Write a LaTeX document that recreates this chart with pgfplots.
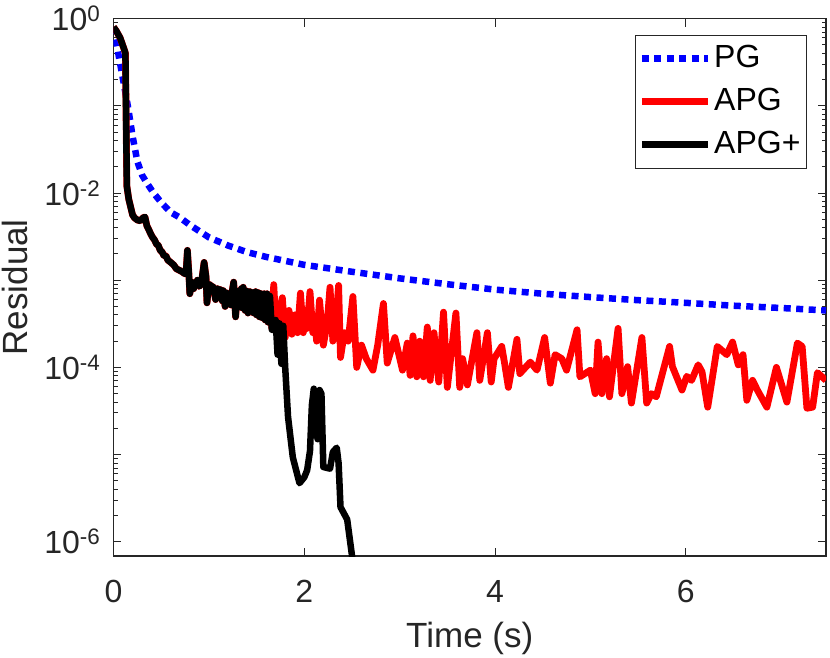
\documentclass[border=0pt]{standalone}
\usepackage{fontspec}
\setmainfont{Liberation Sans}
\usepackage{pgfplots}
\pgfplotsset{compat=1.18}
\definecolor{axgray}{rgb}{0.15,0.15,0.15}
\begin{document}
\begin{tikzpicture}
\begin{axis}[
  at={(0pt,0pt)}, anchor=south west,
  scale only axis, width=712.5pt, height=537.4pt,
  xmin=0, xmax=7.47,
  ymode=log, ymin=6.87e-7, ymax=1,
  xtick={0,2,4,6},
  ytick={1e-6,1e-5,1e-4,1e-3,1e-2,1e-1,1},
  yticklabels={10\textsuperscript{-6},,10\textsuperscript{-4},,10\textsuperscript{-2},,10\textsuperscript{0}},
  /pgf/number format/assume math mode=true,
  tick align=inside,
  major tick length=8pt, minor tick length=4.5pt,
  every tick/.style={axgray, line width=1pt},
  axis line style={axgray, line width=1.2pt},
  tick label style={font=\fontsize{32}{38}\selectfont, text=axgray},
  label style={font=\fontsize{35}{42}\selectfont, text=axgray},
  xlabel={Time (s)}, ylabel={Residual},
  xticklabel style={anchor=base, yshift=-46pt},
  yticklabel style={anchor=east, inner xsep=0pt, xshift=-13pt},
  xlabel style={at={(axis description cs:0.5,0)}, anchor=base, yshift=-91pt},
  ylabel style={at={(axis description cs:0,0.5)}, anchor=base, rotate=0, xshift=0pt, yshift=86pt},
  clip=true,
  legend cell align=left,
  legend style={at={(1,1)}, xshift=-19pt, yshift=-16pt, anchor=north east,
    draw=axgray, line width=1pt, fill=white,
    font=\fontsize{32}{38}\selectfont,
    inner xsep=3pt, inner ysep=2pt,
    nodes={text height=24pt, text depth=7pt, inner xsep=3pt, inner ysep=6pt}},
  legend image code/.code={\draw[#1] (0pt,0pt) -- (66pt,0pt);},
]
% PG
\addplot[color={rgb,1:red,0;green,0;blue,1}, line width=6.5pt, dash pattern=on 7pt off 5.5pt, line cap=butt] coordinates {
(0,0.8) (0.05,0.4) (0.1,0.2) (0.15,0.1) (0.2,0.045) (0.25,0.023) (0.3,0.016) (0.35,0.013) (0.42,0.01) (0.5,0.0078) (0.6,0.0060) (0.7,0.0052) (0.8,0.0043) (1.0,0.0031) (1.2,0.0025) (1.4,0.0021) (1.6,0.00185) (2.0,0.0015) (2.5,0.00125) (3.0,0.00105) (3.5,0.00090) (4.0,0.00078) (4.5,0.00070) (5.0,0.00064) (5.5,0.00059) (6.0,0.00055) (6.5,0.00051) (7.0,0.00048) (7.47,0.00045)
};
\addlegendentry{PG}
% APG
\addplot[color={rgb,1:red,1;green,0;blue,0}, line width=6.8pt, line join=round] coordinates {
(0,0.8) (0.03,0.72) (0.07,0.6) (0.11,0.45) (0.125,0.4) (0.14,0.012) (0.16,0.0085) (0.18,0.0069) (0.2,0.0056) (0.22,0.0052) (0.25,0.0049) (0.28,0.0048) (0.31,0.0052) (0.33,0.0053) (0.35,0.0042) (0.37,0.0038) (0.39,0.0034) (0.41,0.0031) (0.43,0.0029) (0.45,0.0026) (0.47,0.0025) (0.49,0.0022) (0.51,0.0021) (0.53,0.0019) (0.55,0.0019) (0.57,0.0017) (0.6,0.0016) (0.63,0.0015) (0.66,0.00135) (0.69,0.0013) (0.72,0.00125) (0.74,0.0012) (0.76,0.00118) (0.775,0.0022) (0.79,0.0012) (0.8,0.0007) (0.82,0.00095) (0.84,0.0008) (0.86,0.0009) (0.88,0.001) (0.9,0.00085) (0.92,0.0009) (0.95,0.0016) (0.97,0.0011) (0.98,0.00055)
(1.0,0.0009) (1.03,0.00085) (1.05,0.00083) (1.07,0.0006) (1.09,0.0008) (1.1,0.0007) (1.12,0.00078) (1.14,0.00058) (1.15,0.00076) (1.17,0.0005) (1.18,0.00072) (1.2,0.00055) (1.21,0.0007) (1.23,0.00052) (1.24,0.0007) (1.26,0.00095) (1.28,0.00038) (1.3,0.00075) (1.32,0.00055) (1.34,0.0008) (1.35,0.00048) (1.36,0.00083) (1.38,0.00045) (1.4,0.00075) (1.41,0.00042) (1.43,0.00074) (1.44,0.00045) (1.46,0.00072) (1.47,0.00042) (1.49,0.00074) (1.5,0.0004) (1.52,0.00072) (1.53,0.00038) (1.55,0.0007) (1.56,0.00037) (1.58,0.0007) (1.59,0.00035) (1.61,0.0007) (1.62,0.00033) (1.64,0.00066) (1.66,0.00028)
(1.68,0.00089) (1.70,0.00035) (1.72,0.00024) (1.75,0.0005) (1.77,0.00063) (1.8,0.00022) (1.82,0.00035) (1.84,0.00045) (1.87,0.00024) (1.9,0.0004) (1.93,0.00025) (1.96,0.00071) (1.99,0.00025) (2.01,0.00045) (2.03,0.00028) (2.06,0.00074) (2.09,0.00025) (2.11,0.00035) (2.13,0.0002) (2.16,0.00059) (2.2,0.00018) (2.24,0.00032) (2.27,0.00083) (2.3,0.0002) (2.33,0.00032) (2.36,0.00087) (2.38,0.00013) (2.42,0.00025) (2.46,0.0002) (2.51,0.00065) (2.55,0.0001) (2.6,0.00018) (2.65,0.000126) (2.72,0.000093) (2.77,0.00018) (2.83,0.00054) (2.87,0.000112) (2.95,0.00022) (3.03,0.000093) (3.08,0.00019) (3.11,0.000081) (3.14,0.00023) (3.18,0.000078) (3.21,0.0002) (3.25,0.000078) (3.29,0.00029) (3.32,0.000071) (3.36,0.00025) (3.41,0.000068) (3.46,0.00043) (3.5,0.000059) (3.59,0.00042) (3.63,0.000059) (3.66,0.000126) (3.71,0.000063) (3.81,0.00025) (3.84,0.000071) (3.92,0.00025) (3.96,0.000068) (3.99,0.000126) (4.07,0.000174) (4.1,0.000112) (4.14,0.000059) (4.23,0.00021) (4.26,0.000085) (4.37,0.000115) (4.44,0.000093) (4.52,0.00022) (4.58,0.000066) (4.63,0.00014) (4.7,0.000126) (4.75,0.000093) (4.86,0.00027) (4.89,0.000078) (5.0,0.000093) (5.05,0.00005) (5.08,0.000195) (5.12,0.00005) (5.17,0.000126) (5.2,0.000046) (5.29,0.00028) (5.33,0.00005) (5.39,0.000102) (5.43,0.000039) (5.54,0.00022) (5.59,0.000039) (5.64,0.00005) (5.69,0.000046) (5.83,0.000174) (5.86,0.000102) (5.96,0.000055) (6.01,0.000079) (6.06,0.000071) (6.13,0.000107) (6.17,0.000089) (6.23,0.000035) (6.33,0.000174) (6.43,0.00014) (6.49,0.000195) (6.55,0.000107) (6.6,0.00014) (6.64,0.000042) (6.7,0.000071) (6.75,0.000055) (6.85,0.000035) (6.95,0.0001) (7.06,0.00004) (7.17,0.00019) (7.22,0.000174) (7.27,0.000034) (7.33,0.000035) (7.38,0.000087) (7.47,0.000071)
};
\addlegendentry{APG}
% APG+
\addplot[color=black, line width=6.5pt, line join=round] coordinates {
(0,0.8) (0.03,0.72) (0.07,0.6) (0.11,0.45) (0.125,0.4) (0.14,0.012) (0.16,0.0085) (0.18,0.0069) (0.2,0.0056) (0.22,0.0052) (0.25,0.0049) (0.28,0.0048) (0.31,0.0052) (0.33,0.0053) (0.35,0.0042) (0.37,0.0038) (0.39,0.0034) (0.41,0.0031) (0.43,0.0029) (0.45,0.0026) (0.47,0.0025) (0.49,0.0022) (0.51,0.0021) (0.53,0.0019) (0.55,0.0019) (0.57,0.0017) (0.6,0.0016) (0.63,0.0015) (0.66,0.00135) (0.69,0.0013) (0.72,0.00125) (0.74,0.0012) (0.76,0.00118) (0.775,0.0022) (0.79,0.0012) (0.8,0.0007) (0.82,0.00095) (0.84,0.0008) (0.86,0.0009) (0.88,0.001) (0.9,0.00085) (0.92,0.0009) (0.95,0.0016) (0.97,0.0011) (0.98,0.00055)
(1.0,0.0009) (1.03,0.00085) (1.05,0.00083) (1.07,0.0006) (1.09,0.0008) (1.1,0.0007) (1.12,0.00078) (1.14,0.00058) (1.15,0.00076) (1.17,0.0005) (1.18,0.00072) (1.2,0.00055) (1.21,0.0007) (1.23,0.00052) (1.24,0.0007) (1.26,0.00095) (1.28,0.00038) (1.3,0.00075) (1.32,0.00055) (1.34,0.0008) (1.35,0.00048) (1.36,0.00083) (1.38,0.00045) (1.4,0.00075) (1.41,0.00042) (1.43,0.00074) (1.44,0.00045) (1.46,0.00072) (1.47,0.00042) (1.49,0.00074) (1.5,0.0004) (1.52,0.00072) (1.53,0.00038) (1.55,0.0007) (1.56,0.00037) (1.58,0.0007) (1.59,0.00035) (1.61,0.0007) (1.62,0.00033) (1.64,0.00066) (1.66,0.00027)
(1.68,0.00027) (1.70,0.00035) (1.72,0.00014) (1.74,0.00032) (1.76,0.00011) (1.78,0.0003) (1.80,0.0001) (1.83,0.000027) (1.88,0.0000093) (1.95,0.0000047) (2.0,0.0000055) (2.03,0.0000066) (2.06,0.000011) (2.08,0.000037) (2.1,0.000057) (2.12,0.000022) (2.14,0.000015) (2.16,0.000055) (2.18,0.00005) (2.2,0.0000072) (2.27,0.0000069) (2.3,0.0000107) (2.34,0.000012) (2.36,0.000008) (2.38,0.0000025) (2.45,0.0000018) (2.5,0.0000007) (2.53,0.0000002)
};
\addlegendentry{APG+}
\end{axis}
\pgfresetboundingbox
\path[use as bounding box] (-113.5pt,-101pt) rectangle (716.5pt,556pt);
\end{tikzpicture}
\end{document}
